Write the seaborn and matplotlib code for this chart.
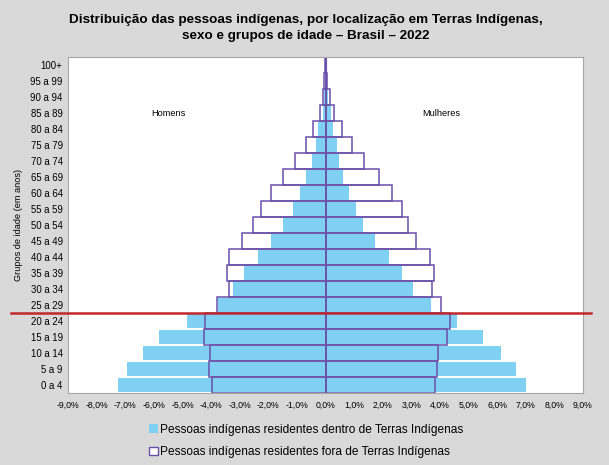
import numpy as np
import pandas as pd
import seaborn as sns
import matplotlib.pyplot as plt
from matplotlib.patches import Patch

# faixas etarias, de cima para baixo
idades = ["100+", "95 a 99", "90 a 94", "85 a 89", "80 a 84", "75 a 79", "70 a 74",
          "65 a 69", "60 a 64", "55 a 59", "50 a 54", "45 a 49", "40 a 44", "35 a 39",
          "30 a 34", "25 a 29", "20 a 24", "15 a 19", "10 a 14", "5 a 9", "0 a 4"]

# % da populacao - dentro de Terras Indigenas
homens_dentro = [0.01, 0.02, 0.05, 0.10, 0.25, 0.33, 0.48, 0.68, 0.89, 1.15, 1.50,
                 1.90, 2.37, 2.84, 3.22, 3.75, 4.83, 5.81, 6.40, 6.93, 7.26]
mulheres_dentro = [0.01, 0.03, 0.08, 0.20, 0.27, 0.39, 0.48, 0.62, 0.83, 1.07, 1.32,
                   1.73, 2.23, 2.69, 3.07, 3.68, 4.59, 5.52, 6.14, 6.65, 7.03]

# % da populacao - fora de Terras Indigenas
homens_fora = [0.02, 0.04, 0.10, 0.19, 0.43, 0.68, 1.06, 1.50, 1.90, 2.26, 2.52,
               2.91, 3.36, 3.45, 3.38, 3.80, 4.20, 4.24, 4.05, 4.06, 3.96]
mulheres_fora = [0.02, 0.06, 0.16, 0.31, 0.59, 0.92, 1.36, 1.87, 2.31, 2.69, 2.90,
                 3.17, 3.66, 3.80, 3.73, 4.03, 4.35, 4.24, 3.94, 3.89, 3.83]

xticks = np.arange(-9, 10, 1)
xtick_labels = [f"{v:.1f}%".replace(".", ",") for v in xticks]

azul = "#7fd0f3"
roxo = "#6a50a8"

def monta(homens, mulheres):
    return pd.DataFrame({
        "idade": idades * 2,
        "valor": [-v for v in homens] + list(mulheres),
        "sexo": ["Homens"] * len(idades) + ["Mulheres"] * len(idades),
    })

df_dentro = monta(homens_dentro, mulheres_dentro)
df_fora = monta(homens_fora, mulheres_fora)

plt.rcParams["font.family"] = ["Liberation Sans", "DejaVu Sans"]

fig = plt.figure(figsize=(6.09, 4.65), dpi=100)
fig.patch.set_facecolor("#d9d9d9")
ax = fig.add_axes([0.112, 0.155, 0.845, 0.722])
ax.set_facecolor("white")

sns.barplot(data=df_dentro, x="valor", y="idade", hue="sexo", order=idades,
            dodge=False, palette={"Homens": azul, "Mulheres": azul}, saturation=1,
            width=0.92, linewidth=0, legend=False, ax=ax, orient="h")
sns.barplot(data=df_fora, x="valor", y="idade", hue="sexo", order=idades,
            dodge=False, palette={"Homens": roxo, "Mulheres": roxo}, saturation=1,
            width=1.0, fill=False, linewidth=1.1, legend=False, ax=ax, orient="h")

ax.axvline(0, color="#a9b9cc", linewidth=1, zorder=0.5)

ax.set_xlim(-9, 9)
ax.set_xticks(xticks)
ax.set_xticklabels(xtick_labels, fontsize=6.3)
ax.tick_params(axis="both", length=0)
ax.tick_params(axis="y", labelsize=6.9, pad=4)
ax.tick_params(axis="x", pad=6)
ax.set_xlabel("")
ax.set_ylabel("Grupos de idade (em anos)", fontsize=6.6, labelpad=5)

for s in ax.spines.values():
    s.set_color("#a6a6a6")
    s.set_linewidth(0.8)

ax.text(-5.5, 3, "Homens", fontsize=6.6, ha="center", va="center")
ax.text(4.05, 3, "Mulheres", fontsize=6.6, ha="center", va="center")

# linha vermelha entre 25 a 29 e 20 a 24
corte = idades.index("20 a 24") - 0.5
ax.axhline(corte, xmin=-0.112, xmax=1.015, color="#c0282d", linewidth=1.8,
           clip_on=False, zorder=5)

fig.suptitle("Distribuição das pessoas indígenas, por localização em Terras Indígenas,\n"
             "sexo e grupos de idade – Brasil – 2022",
             fontsize=9.7, fontweight="bold", y=0.97, x=0.502, linespacing=1.5)

handles = [Patch(facecolor=azul, edgecolor="none",
                 label="Pessoas indígenas residentes dentro de Terras Indígenas"),
           Patch(facecolor="white", edgecolor=roxo, linewidth=1,
                 label="Pessoas indígenas residentes fora de Terras Indígenas")]
leg = fig.legend(handles=handles, loc="lower center", bbox_to_anchor=(0.503, -0.008),
                 frameon=False, fontsize=8.6, handlelength=0.7, handleheight=0.7,
                 handletextpad=0.2, labelspacing=0.85)
leg._legend_box.align = "left"

fig.savefig("out.png", dpi=100, facecolor=fig.get_facecolor())
